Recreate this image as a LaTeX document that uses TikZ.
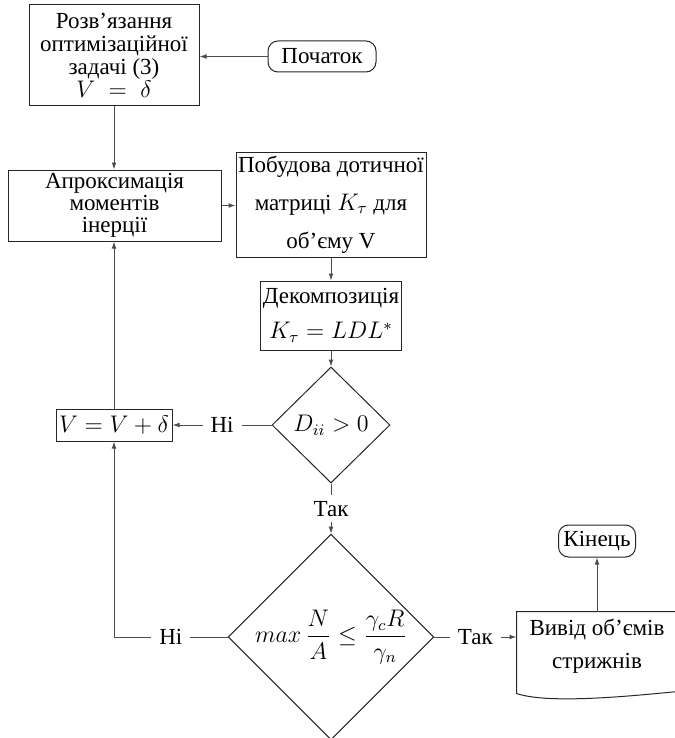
\documentclass[tikz,border=0pt]{standalone}
\usepackage[no-math]{fontspec}
\setmainfont{Liberation Serif}
\usetikzlibrary{shapes.geometric,arrows.meta}
\begin{document}
\begin{tikzpicture}[x=0.5pt,y=-0.5pt,
  line width=0.5pt,
  box/.style={draw=black!85, rectangle, align=center, inner sep=1pt,
    font=\fontsize{11.5}{11.5}\selectfont},
  term/.style={draw=black!85, rectangle, rounded corners=5pt, align=center, inner sep=1pt,
    font=\fontsize{11.5}{11.5}\selectfont},
  dec/.style={draw=black!85, diamond, aspect=1, inner sep=0pt, align=center,
    font=\fontsize{11.5}{11.5}\selectfont},
  arr/.style={draw=black!70, -{Latex[length=3.5pt,width=2.4pt]}},
  lbl/.style={fill=white, inner xsep=4pt, inner ysep=3pt, font=\fontsize{11.5}{11.5}\selectfont}]
\useasboundingbox (0,0) rectangle (674,738);

\node[box, minimum width=85pt, minimum height=50.5pt] (b1) at (114,55.5)
  {Розв’язання\\оптимізаційної\\задачі (3)\\$V\;=\;\delta$};
\node[term, minimum width=54pt, minimum height=15.5pt] (start) at (322,56.5) {Початок};
\node[box, minimum width=106.5pt, minimum height=35.5pt, font=\fontsize{11.5}{11}\selectfont] (b2) at (114.5,205.5)
  {Апроксимація\\моментів\\інерції};
\node[box, minimum width=95pt, minimum height=52.5pt, font=\fontsize{11.5}{19}\selectfont] (b3) at (331,204.5)
  {Побудова дотичної\\матриці $K_\tau$ для\\об’єму V};
\node[box, minimum width=70.5pt, minimum height=34.5pt, font=\fontsize{11.5}{17.5}\selectfont] (b4) at (331,315.5)
  {Декомпозиція\\$K_\tau = LDL^*$};
\node[dec, minimum width=59pt, minimum height=58pt] (d1) at (331,425) {$D_{ii} > 0$};
\node[box, minimum width=58pt, minimum height=16pt] (v) at (114,425) {$V = V + \delta$};
\node[dec, minimum width=100.5pt, minimum height=97pt] (d2) at (331,637)
  {$\displaystyle max\,\frac{N}{A} \leq \frac{\gamma_c R}{\gamma_n}$};
\node[term, minimum width=38.5pt, minimum height=16pt] (end) at (597,541) {Кінець};
\node[rectangle, minimum width=80pt, minimum height=34.5pt, align=center, inner sep=0pt,
  font=\fontsize{11.5}{16.5}\selectfont] (out) at (597,646.5) {Вивід об’ємів\\стрижнів};
\draw[draw=black!85] (out.north west) -- (out.north east) -- ([yshift=-5pt]out.south east)
  .. controls +(-30pt,-3pt) and +(15pt,-5pt) .. ([yshift=-6pt]out.south west) -- cycle;

\draw[arr] (start.west) -- (start.west -| b1.east);
\draw[arr] (b1.south) -- (b1.south |- b2.north);
\draw[arr] (b2.east) -- (b2.east -| b3.west);
\draw[arr] (b3.south) -- (b4.north);
\draw[arr] (b4.south) -- (d1.north);
\draw[arr] (d1.west) -- node[lbl]{Ні} (v.east);
\draw[arr] (d1.south) -- node[lbl]{Так} (d2.north);
\draw[arr] (d2.west) -- node[lbl]{Ні} (d2.west -| v.south) -- (v.south);
\draw[arr] (v.north) -- (v.north |- b2.south);
\draw[arr] (d2.east) -- node[lbl]{Так} (d2.east -| out.west);
\draw[arr] (out.north) -- (end.south);
\end{tikzpicture}
\end{document}
